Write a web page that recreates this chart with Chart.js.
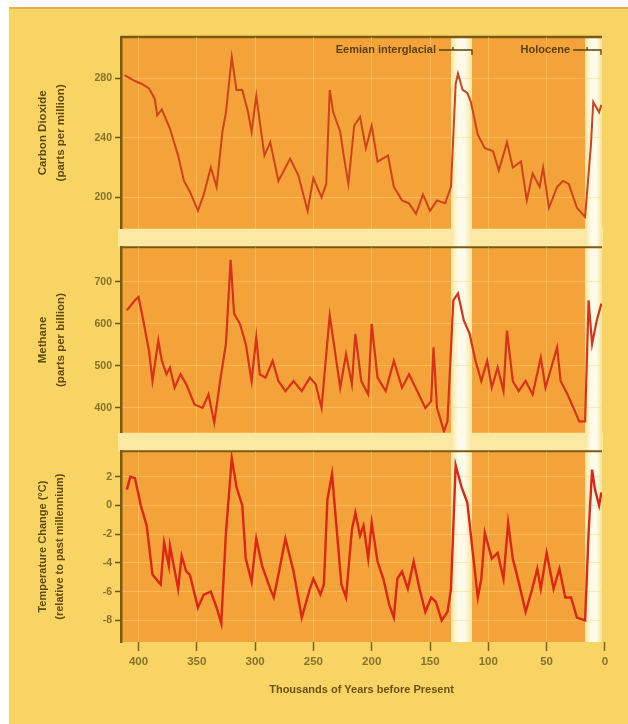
<!DOCTYPE html>
<html>
<head>
<meta charset="utf-8">
<script src="https://cdn.jsdelivr.net/npm/chart.js@4.4.1/dist/chart.umd.min.js"></script>
<style>
  html, body { margin: 0; padding: 0; background: #ffffff; }
  body { width: 628px; height: 724px; position: relative; overflow: hidden; }
  #frame { position: absolute; left: 9px; top: 7px; right: 0; bottom: 0; background: #f7d463; border-top: 2px solid #e9ad4c; }
  .panel { position: absolute; left: 0; width: 628px; }
  .panel canvas { display: block; }
</style>
</head>
<body>
<div id="frame"></div>
<div class="panel" style="top:0;height:238px"><canvas id="co2Chart" width="628" height="238"></canvas></div>
<div class="panel" style="top:238px;height:204px"><canvas id="ch4Chart" width="628" height="204"></canvas></div>
<div class="panel" style="top:442px;height:282px"><canvas id="tempChart" width="628" height="282"></canvas></div>
<script>
// thousands of years before present
const yearTicks = [400, 350, 300, 250, 200, 150, 100, 50, 0];
const eraNames = ['Eemian interglacial', 'Holocene'];
const eraBands = [[132, 114], [17, 2.5]];

const co2Kyr = [412, 403, 397, 391, 386, 384, 380, 373, 366, 361, 356, 349, 344, 338, 333, 328, 325, 320, 316, 311, 306, 303, 299, 292, 287, 280, 270, 263, 255, 250, 243, 239, 236, 233, 227, 224, 220, 215, 210, 205, 200, 195, 186, 181, 174, 168, 162, 156, 150, 144, 137, 132, 128, 126, 122, 118, 115, 109, 103, 96, 91, 84, 79, 72, 67, 62, 56, 53, 48, 41, 36, 31, 24, 17, 12, 10, 5, 3];
const co2Ppm = [282, 278, 276, 273, 266, 255, 259, 246, 228, 211, 204, 191, 202, 220, 207, 244, 257, 294, 272, 272, 257, 244, 268, 228, 237, 211, 226, 215, 191, 213, 200, 209, 272, 257, 244, 228, 209, 248, 254, 233, 248, 224, 228, 207, 198, 196, 189, 202, 191, 198, 196, 207, 276, 283, 272, 270, 264, 242, 233, 231, 218, 237, 220, 224, 198, 216, 207, 220, 193, 207, 211, 209, 193, 187, 235, 264, 257, 262];

const ch4Kyr = [410, 403, 400, 397, 391, 388, 383, 380, 376, 373, 369, 364, 359, 352, 345, 340, 335, 330, 325, 321, 318, 313, 308, 303, 299, 296, 291, 285, 280, 274, 267, 260, 253, 248, 243, 240, 236, 232, 227, 222, 217, 214, 209, 203, 200, 195, 188, 181, 174, 168, 161, 154, 149, 147, 144, 138, 135, 130, 126, 121, 116, 111, 106, 101, 97, 92, 87, 84, 79, 74, 68, 62, 55, 51, 46, 41, 38, 32, 27, 22, 17, 14, 11, 7, 3];
const ch4Ppb = [632, 656, 664, 624, 536, 464, 560, 512, 480, 496, 448, 480, 456, 408, 400, 432, 365, 464, 552, 752, 624, 600, 552, 464, 568, 480, 472, 512, 464, 440, 464, 440, 472, 456, 400, 496, 620, 544, 448, 528, 456, 576, 464, 432, 600, 472, 440, 512, 448, 480, 440, 400, 416, 544, 400, 344, 368, 656, 672, 608, 576, 512, 464, 512, 448, 496, 440, 584, 464, 440, 464, 432, 520, 448, 496, 544, 464, 432, 400, 368, 368, 656, 552, 608, 648];

const tempKyr = [410, 407, 403, 398, 393, 388, 383, 381, 378, 374, 373, 366, 363, 359, 356, 349, 344, 338, 333, 329, 325, 320, 316, 311, 308, 303, 299, 294, 287, 284, 279, 274, 267, 260, 253, 250, 244, 241, 238, 234, 231, 226, 222, 217, 214, 210, 207, 203, 200, 195, 190, 185, 181, 178, 174, 169, 164, 159, 154, 149, 145, 140, 135, 132, 128, 123, 118, 113, 109, 106, 103, 97, 92, 87, 83, 79, 74, 68, 63, 58, 55, 50, 44, 39, 34, 29, 24, 17, 14, 11, 8.5, 5, 3];
const tempDelta = [1.1, 2.0, 1.9, 0.0, -1.4, -4.8, -5.3, -5.5, -2.6, -4.2, -2.8, -5.8, -3.5, -4.6, -4.8, -7.1, -6.2, -6.0, -7.1, -8.2, -1.9, 3.3, 1.3, 0.0, -3.7, -5.3, -2.3, -4.2, -5.8, -6.4, -4.4, -2.3, -4.6, -7.8, -5.8, -5.1, -6.2, -5.5, 0.4, 2.2, -0.7, -5.5, -6.4, -1.7, -0.5, -2.1, -1.4, -3.7, -1.2, -3.9, -5.1, -6.9, -7.8, -5.1, -4.6, -5.8, -3.9, -5.8, -7.4, -6.4, -6.7, -8.0, -7.4, -5.8, 2.8, 1.3, 0.2, -3.5, -6.4, -5.1, -1.9, -3.7, -3.3, -5.1, -1.2, -3.7, -5.3, -7.4, -6.0, -4.4, -5.8, -3.3, -5.8, -4.4, -6.4, -6.4, -7.8, -8.0, -1.9, 2.5, 1.1, 0.0, 0.9];

const co2Ticks = [200, 240, 280];
const ch4Ticks = [400, 500, 600, 700];
const tempTicks = [-8, -6, -4, -2, 0, 2];

const FONT = "'Liberation Sans Narrow', 'Liberation Sans', 'DejaVu Sans', sans-serif";
Chart.defaults.font.family = FONT;

const gridColor = 'rgba(255, 214, 120, 0.45)';
const darkBrown = '#7a5a12';

const panelBg = {
    id: 'panelBg',
    beforeDraw(chart, args, opts) {
        const { ctx, chartArea: a, scales: { x } } = chart;
        ctx.save();
        ctx.fillStyle = '#fbe8a2';
        if (opts.gapTop) ctx.fillRect(a.left - 3, 0, a.width + 4, a.top);
        if (opts.gapBottom) ctx.fillRect(a.left - 3, a.bottom, a.width + 4, chart.height - a.bottom);
        ctx.fillStyle = '#f4a33a';
        ctx.fillRect(a.left, a.top, a.width, a.height);

        const y0 = opts.gapTop ? 0 : a.top;
        const y1 = opts.gapBottom ? chart.height : a.bottom;
        eraBands.forEach(([from, to]) => {
            const xa = x.getPixelForValue(from);
            const xb = Math.min(x.getPixelForValue(to), a.right);
            const g = ctx.createLinearGradient(xa, 0, xb, 0);
            g.addColorStop(0, '#f9e49a');
            g.addColorStop(0.35, '#fffbea');
            g.addColorStop(0.65, '#fffbea');
            g.addColorStop(1, '#f9e49a');
            ctx.fillStyle = g;
            ctx.fillRect(xa, y0, xb - xa, y1 - y0);
        });

        ctx.strokeStyle = darkBrown;
        ctx.lineWidth = opts.gapTop ? 2 : 2.5;
        ctx.beginPath();
        ctx.moveTo(a.left, a.top);
        ctx.lineTo(a.right, a.top);
        ctx.stroke();
        ctx.restore();
    }
};

const eraLabels = {
    id: 'eraLabels',
    afterDatasetsDraw(chart, args, opts) {
        if (!opts.show) return;
        const { ctx, chartArea: a, scales: { x } } = chart;
        const y = a.top + 13;
        ctx.save();
        ctx.font = 'bold 11px ' + FONT;
        ctx.fillStyle = '#5a4110';
        ctx.strokeStyle = '#5a4110';
        ctx.lineWidth = 1.3;
        ctx.textAlign = 'right';
        ctx.textBaseline = 'middle';
        eraNames.forEach((name, i) => {
            const xa = x.getPixelForValue(eraBands[i][0]);
            const xb = Math.min(x.getPixelForValue(eraBands[i][1]), a.right - 1);
            const tx = xa - 15;
            ctx.fillText(name, tx, y);
            ctx.beginPath();
            ctx.moveTo(tx + 3, y);
            ctx.lineTo(xb, y);
            ctx.lineTo(xb, y + 5);
            ctx.moveTo(xa + 2, y);
            ctx.lineTo(xa + 2, y - 3);
            ctx.stroke();
        });
        ctx.restore();
    }
};

function toPoints(xs, ys) {
    return xs.map((v, i) => ({ x: v, y: ys[i] }));
}

function xScale(showLabels) {
    return {
        type: 'linear',
        reverse: true,
        min: 2.5,
        max: 415,
        afterBuildTicks: s => { s.ticks = yearTicks.map(v => ({ value: v })); },
        afterFit: s => { s.height = showLabels ? 60 : 0; },
        grid: {
            color: c => (c.tick && c.tick.value === 0) ? 'rgba(0,0,0,0)' : gridColor,
            drawTicks: showLabels,
            tickLength: 9,
            tickColor: '#7d6418',
            tickWidth: 1.5
        },
        border: { display: false },
        ticks: {
            display: showLabels,
            color: '#85722c',
            font: { size: 11.5, weight: 'bold' },
            padding: 4,
            maxRotation: 0,
            autoSkip: false
        },
        title: {
            display: showLabels,
            text: 'Thousands of Years before Present',
            color: '#6a5216',
            font: { size: 11, weight: 'bold' },
            padding: { top: 0, bottom: 5 }
        }
    };
}

function yScale(min, max, tickVals, titleLines, titleSize) {
    return {
        min: min,
        max: max,
        afterBuildTicks: s => { s.ticks = tickVals.map(v => ({ value: v })); },
        afterFit: s => { s.width = 121; },
        grid: { color: gridColor, tickColor: '#6e5514', tickLength: 6, tickWidth: 1.5 },
        border: { color: darkBrown, width: 2.5 },
        ticks: { color: '#85722c', font: { size: 10.5, weight: 'bold' }, padding: 3 },
        title: {
            display: true,
            text: titleLines,
            color: '#5e4a10',
            font: { size: titleSize, weight: 'bold', lineHeight: 1.55 },
            padding: { top: 34, bottom: 0 }
        }
    };
}

function makeChart(canvasId, points, yOpts, opts) {
    return new Chart(document.getElementById(canvasId), {
        type: 'line',
        data: {
            datasets: [{
                data: points,
                borderColor: opts.lineColor,
                borderWidth: opts.lineWidth,
                pointRadius: 0,
                tension: 0,
                fill: false
            }]
        },
        options: {
            responsive: false,
            animation: false,
            layout: { padding: opts.padding },
            plugins: {
                legend: { display: false },
                tooltip: { enabled: false },
                panelBg: { gapTop: opts.gapTop, gapBottom: opts.gapBottom },
                eraLabels: { show: opts.eraLabels }
            },
            scales: { x: xScale(opts.showX), y: yOpts }
        },
        plugins: [panelBg, eraLabels]
    });
}

makeChart('co2Chart', toPoints(co2Kyr, co2Ppm),
    yScale(179, 307.5, co2Ticks, ['Carbon Dioxide', '(parts per million)'], 11.5),
    { padding: { top: 37, right: 26, bottom: 5, left: 0 }, gapTop: false, gapBottom: true, eraLabels: true, showX: false, lineColor: '#d0421c', lineWidth: 2 });

makeChart('ch4Chart', toPoints(ch4Kyr, ch4Ppb),
    yScale(341, 782, ch4Ticks, ['Methane', '(parts per billion)'], 11.5),
    { padding: { top: 5, right: 26, bottom: 5, left: 0 }, gapTop: true, gapBottom: true, eraLabels: false, showX: false, lineColor: '#d8321a', lineWidth: 2.2 });

makeChart('tempChart', toPoints(tempKyr, tempDelta),
    yScale(-9.5, 3.77, tempTicks, ['Temperature Change (\u00b0C)', '(relative to past millennium)'], 11),
    { padding: { top: 5, right: 26, bottom: 22, left: 0 }, gapTop: true, gapBottom: false, eraLabels: false, showX: true, lineColor: '#dc2616', lineWidth: 2.4 });
</script>
</body>
</html>
